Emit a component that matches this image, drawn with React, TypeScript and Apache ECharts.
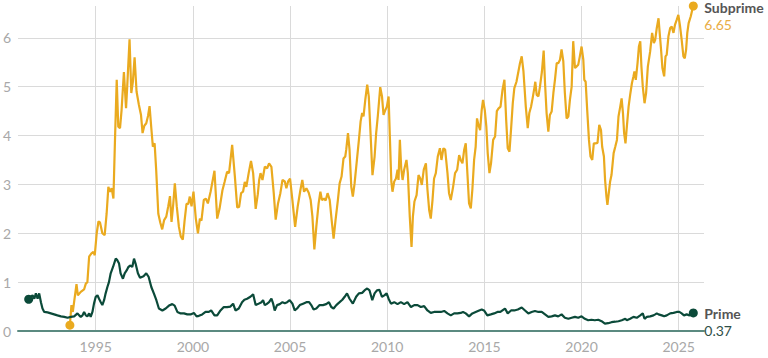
import React, { useEffect, useRef } from "react";
import * as echarts from "echarts";

const xTickYears = [1995, 2000, 2005, 2010, 2015, 2020, 2025];
const yTickValues = [0, 1, 2, 3, 4, 5, 6];

const subprimeData: [number, number][] = [
  [1993.67, 0.12], [1993.75, 0.53], [1993.82, 0.39], [1994.01, 0.96], [1994.08, 0.73], [1994.23, 0.8],
  [1994.4, 0.85], [1994.49, 0.97], [1994.57, 1.0], [1994.66, 1.52], [1994.78, 1.59], [1994.88, 1.62],
  [1994.95, 1.55], [1995.05, 2.0], [1995.14, 2.24], [1995.22, 2.22], [1995.34, 2.0], [1995.46, 1.96],
  [1995.56, 2.4], [1995.65, 2.95], [1995.73, 2.85], [1995.82, 2.92], [1995.91, 2.71], [1995.99, 3.9],
  [1996.08, 5.14], [1996.16, 4.18], [1996.25, 4.15], [1996.33, 4.52], [1996.45, 5.3], [1996.56, 4.56],
  [1996.62, 5.0], [1996.74, 5.97], [1996.83, 4.87], [1996.91, 5.1], [1997.0, 5.6], [1997.1, 4.9],
  [1997.22, 4.63], [1997.33, 4.42], [1997.41, 4.05], [1997.5, 4.2], [1997.6, 4.25], [1997.69, 4.4],
  [1997.77, 4.6], [1997.86, 4.15], [1997.94, 3.77], [1998.03, 3.84], [1998.11, 3.3], [1998.22, 2.4],
  [1998.32, 2.22], [1998.42, 2.08], [1998.52, 2.27], [1998.63, 2.34], [1998.73, 2.55], [1998.82, 2.76],
  [1998.9, 2.23], [1998.99, 2.6], [1999.07, 3.02], [1999.17, 2.55], [1999.28, 2.13], [1999.38, 1.93],
  [1999.48, 1.87], [1999.57, 2.25], [1999.67, 2.6], [1999.76, 2.6], [1999.84, 2.75], [1999.93, 2.55],
  [2000.03, 2.85], [2000.15, 2.3], [2000.26, 2.0], [2000.36, 2.3], [2000.44, 2.26], [2000.56, 2.68],
  [2000.67, 2.71], [2000.77, 2.61], [2000.91, 2.85], [2001.11, 3.28], [2001.25, 2.3], [2001.37, 2.5],
  [2001.52, 2.88], [2001.63, 3.05], [2001.76, 3.26], [2001.86, 3.23], [2002.02, 3.81], [2002.16, 3.16],
  [2002.28, 2.53], [2002.38, 2.54], [2002.48, 2.82], [2002.58, 2.85], [2002.67, 3.05], [2002.75, 2.95],
  [2002.87, 3.23], [2002.99, 3.48], [2003.1, 3.23], [2003.23, 2.5], [2003.34, 2.8], [2003.41, 3.09],
  [2003.48, 3.23], [2003.58, 3.09], [2003.7, 3.36], [2003.82, 3.33], [2003.92, 3.43], [2004.04, 3.36],
  [2004.16, 2.82], [2004.26, 2.28], [2004.38, 2.61], [2004.5, 2.82], [2004.61, 3.09], [2004.73, 3.06],
  [2004.81, 2.92], [2004.9, 3.06], [2005.0, 3.12], [2005.12, 2.68], [2005.26, 2.13], [2005.39, 2.54],
  [2005.53, 2.88], [2005.63, 3.09], [2005.72, 2.85], [2005.84, 2.92], [2005.96, 2.83], [2006.06, 2.68],
  [2006.15, 2.34], [2006.25, 1.67], [2006.35, 2.13], [2006.47, 2.61], [2006.56, 2.85], [2006.64, 2.68],
  [2006.75, 2.71], [2006.83, 2.67], [2006.93, 2.82], [2007.04, 2.68], [2007.14, 2.27], [2007.24, 1.89],
  [2007.34, 2.27], [2007.46, 2.68], [2007.55, 3.02], [2007.65, 3.16], [2007.75, 3.53], [2007.84, 3.57],
  [2007.89, 3.71], [2007.98, 4.05], [2008.06, 3.71], [2008.15, 2.95], [2008.23, 2.75], [2008.32, 3.02],
  [2008.44, 3.5], [2008.54, 3.9], [2008.63, 4.29], [2008.71, 4.46], [2008.78, 4.39], [2008.87, 4.73],
  [2008.97, 5.04], [2009.05, 4.8], [2009.14, 4.05], [2009.24, 3.19], [2009.35, 3.57], [2009.43, 4.05],
  [2009.52, 4.42], [2009.64, 4.99], [2009.73, 4.8], [2009.81, 4.42], [2009.9, 4.52], [2009.98, 4.59],
  [2010.07, 4.8], [2010.14, 3.91], [2010.21, 3.06], [2010.27, 2.85], [2010.36, 3.06], [2010.45, 3.12],
  [2010.53, 3.3], [2010.58, 3.09], [2010.65, 3.91], [2010.72, 3.33], [2010.79, 3.09], [2010.87, 3.3],
  [2010.99, 3.5], [2011.06, 3.23], [2011.16, 2.34], [2011.25, 1.72], [2011.32, 2.34], [2011.4, 2.65],
  [2011.51, 2.78], [2011.61, 3.19], [2011.7, 3.12], [2011.78, 2.99], [2011.88, 3.3], [2011.99, 3.43],
  [2012.07, 2.89], [2012.16, 2.47], [2012.24, 2.3], [2012.33, 2.68], [2012.41, 3.12], [2012.5, 3.23],
  [2012.6, 3.57], [2012.71, 3.74], [2012.79, 3.5], [2012.89, 3.74], [2012.98, 3.71], [2013.1, 3.23],
  [2013.18, 2.82], [2013.27, 2.68], [2013.39, 2.95], [2013.49, 3.23], [2013.6, 3.3], [2013.7, 3.6],
  [2013.78, 3.5], [2013.87, 3.43], [2013.96, 3.71], [2014.04, 3.84], [2014.13, 3.19], [2014.21, 2.61],
  [2014.3, 2.51], [2014.38, 2.89], [2014.47, 3.5], [2014.55, 3.77], [2014.62, 4.35], [2014.69, 4.22],
  [2014.78, 4.11], [2014.86, 4.52], [2014.93, 4.73], [2015.02, 4.52], [2015.1, 4.18], [2015.17, 3.64],
  [2015.26, 3.23], [2015.34, 3.43], [2015.45, 3.91], [2015.55, 3.98], [2015.64, 4.5], [2015.72, 4.55],
  [2015.83, 4.59], [2015.93, 4.93], [2016.03, 5.14], [2016.12, 4.32], [2016.2, 3.74], [2016.29, 3.67],
  [2016.37, 4.12], [2016.46, 4.66], [2016.54, 4.97], [2016.65, 5.1], [2016.75, 5.31], [2016.83, 5.48],
  [2016.92, 5.62], [2017.01, 5.31], [2017.13, 4.59], [2017.23, 4.15], [2017.31, 4.46], [2017.4, 4.59],
  [2017.48, 4.76], [2017.57, 4.97], [2017.62, 5.1], [2017.69, 4.83], [2017.78, 4.8], [2017.86, 5.0],
  [2017.96, 5.31], [2018.05, 5.74], [2018.12, 5.07], [2018.2, 4.46], [2018.29, 4.08], [2018.37, 4.42],
  [2018.46, 4.49], [2018.55, 4.87], [2018.63, 5.14], [2018.72, 5.48], [2018.8, 5.48], [2018.89, 5.55],
  [2018.97, 5.76], [2019.06, 5.52], [2019.14, 4.87], [2019.23, 4.35], [2019.32, 4.39], [2019.4, 4.73],
  [2019.49, 5.0], [2019.57, 5.93], [2019.66, 5.38], [2019.74, 5.41], [2019.83, 5.45], [2019.91, 5.62],
  [2020.0, 5.82], [2020.09, 5.55], [2020.14, 5.14], [2020.21, 5.1], [2020.29, 4.52], [2020.38, 3.91],
  [2020.46, 3.57], [2020.55, 3.5], [2020.63, 3.84], [2020.72, 3.84], [2020.82, 3.85], [2020.91, 4.22],
  [2021.0, 4.11], [2021.06, 3.77], [2021.15, 3.57], [2021.21, 3.09], [2021.28, 2.75], [2021.33, 2.58],
  [2021.4, 2.82], [2021.47, 3.06], [2021.54, 3.19], [2021.65, 3.64], [2021.74, 3.78], [2021.82, 3.91],
  [2021.9, 4.39], [2021.99, 4.59], [2022.06, 4.76], [2022.13, 4.46], [2022.19, 4.05], [2022.26, 3.84],
  [2022.33, 4.18], [2022.42, 4.59], [2022.5, 4.83], [2022.59, 5.07], [2022.67, 5.21], [2022.72, 5.31],
  [2022.79, 5.14], [2022.88, 5.48], [2022.95, 5.82], [2023.02, 5.93], [2023.08, 5.41], [2023.15, 5.0],
  [2023.24, 4.66], [2023.32, 4.87], [2023.41, 5.41], [2023.53, 5.72], [2023.63, 6.1], [2023.72, 5.89],
  [2023.79, 5.96], [2023.87, 6.2], [2023.96, 6.4], [2024.02, 6.1], [2024.09, 5.76], [2024.16, 5.38],
  [2024.25, 5.21], [2024.32, 5.62], [2024.38, 5.65], [2024.47, 6.03], [2024.56, 6.2], [2024.64, 6.23],
  [2024.73, 6.1], [2024.81, 6.27], [2024.9, 6.37], [2024.98, 6.47], [2025.07, 6.23], [2025.15, 5.96],
  [2025.24, 5.62], [2025.31, 5.58], [2025.38, 5.76], [2025.44, 6.1], [2025.51, 6.3], [2025.62, 6.44],
  [2025.7, 6.58], [2025.75, 6.65],
];

const primeData: [number, number][] = [
  [1991.55, 0.65], [1991.67, 0.7], [1991.75, 0.73], [1991.84, 0.66], [1991.92, 0.77], [1992.01, 0.66],
  [1992.09, 0.77], [1992.18, 0.59], [1992.26, 0.46], [1992.35, 0.39], [1992.52, 0.38], [1992.69, 0.36],
  [1992.86, 0.34], [1993.03, 0.32], [1993.21, 0.3], [1993.38, 0.29], [1993.55, 0.27], [1993.72, 0.29],
  [1993.89, 0.3], [1994.06, 0.36], [1994.15, 0.32], [1994.23, 0.29], [1994.32, 0.32], [1994.4, 0.39],
  [1994.49, 0.32], [1994.57, 0.3], [1994.66, 0.36], [1994.74, 0.29], [1994.83, 0.39], [1994.91, 0.56],
  [1995.0, 0.7], [1995.09, 0.73], [1995.17, 0.66], [1995.26, 0.59], [1995.34, 0.53], [1995.43, 0.63],
  [1995.51, 0.77], [1995.6, 0.9], [1995.68, 1.0], [1995.77, 1.18], [1995.89, 1.31], [1996.03, 1.48],
  [1996.11, 1.45], [1996.2, 1.38], [1996.28, 1.18], [1996.4, 1.07], [1996.49, 1.18], [1996.59, 1.24],
  [1996.68, 1.31], [1996.79, 1.34], [1996.88, 1.31], [1996.97, 1.48], [1997.05, 1.38], [1997.17, 1.18],
  [1997.28, 1.09], [1997.46, 1.12], [1997.6, 1.18], [1997.72, 1.11], [1997.86, 0.9], [1998.0, 0.76],
  [1998.12, 0.63], [1998.25, 0.46], [1998.43, 0.42], [1998.6, 0.46], [1998.77, 0.52], [1998.94, 0.55],
  [1999.06, 0.52], [1999.2, 0.39], [1999.37, 0.36], [1999.54, 0.36], [1999.71, 0.34], [1999.88, 0.34],
  [2000.05, 0.37], [2000.19, 0.3], [2000.31, 0.31], [2000.48, 0.34], [2000.65, 0.39], [2000.82, 0.39],
  [2000.94, 0.42], [2001.11, 0.32], [2001.25, 0.32], [2001.42, 0.42], [2001.59, 0.49], [2001.76, 0.49],
  [2001.93, 0.5], [2002.07, 0.56], [2002.19, 0.42], [2002.36, 0.46], [2002.53, 0.59], [2002.65, 0.64],
  [2002.79, 0.66], [2002.96, 0.7], [2003.1, 0.75], [2003.23, 0.53], [2003.34, 0.55], [2003.53, 0.59],
  [2003.61, 0.63], [2003.7, 0.53], [2003.79, 0.55], [2003.92, 0.59], [2004.04, 0.66], [2004.13, 0.56],
  [2004.21, 0.42], [2004.33, 0.53], [2004.47, 0.55], [2004.61, 0.59], [2004.73, 0.57], [2004.85, 0.59],
  [2004.98, 0.63], [2005.12, 0.56], [2005.24, 0.42], [2005.36, 0.46], [2005.5, 0.53], [2005.67, 0.56],
  [2005.84, 0.59], [2005.98, 0.59], [2006.09, 0.53], [2006.21, 0.44], [2006.35, 0.46], [2006.52, 0.53],
  [2006.69, 0.53], [2006.86, 0.55], [2007.0, 0.59], [2007.12, 0.49], [2007.24, 0.46], [2007.38, 0.53],
  [2007.55, 0.59], [2007.69, 0.64], [2007.81, 0.7], [2007.93, 0.77], [2008.06, 0.66], [2008.23, 0.56],
  [2008.4, 0.7], [2008.54, 0.77], [2008.71, 0.78], [2008.83, 0.83], [2008.97, 0.87], [2009.09, 0.83],
  [2009.23, 0.63], [2009.35, 0.77], [2009.47, 0.83], [2009.6, 0.84], [2009.73, 0.7], [2009.85, 0.73],
  [2009.97, 0.77], [2010.07, 0.66], [2010.19, 0.56], [2010.36, 0.59], [2010.53, 0.55], [2010.7, 0.59],
  [2010.87, 0.55], [2011.04, 0.59], [2011.22, 0.49], [2011.39, 0.53], [2011.56, 0.53], [2011.73, 0.49],
  [2011.9, 0.51], [2012.07, 0.42], [2012.24, 0.37], [2012.41, 0.39], [2012.59, 0.39], [2012.76, 0.39],
  [2012.93, 0.41], [2013.1, 0.36], [2013.27, 0.32], [2013.44, 0.36], [2013.61, 0.36], [2013.78, 0.37],
  [2013.9, 0.39], [2014.04, 0.36], [2014.21, 0.3], [2014.38, 0.36], [2014.55, 0.39], [2014.73, 0.42],
  [2014.86, 0.44], [2014.98, 0.42], [2015.15, 0.32], [2015.33, 0.34], [2015.5, 0.36], [2015.67, 0.39],
  [2015.82, 0.39], [2016.06, 0.46], [2016.2, 0.36], [2016.37, 0.42], [2016.54, 0.42], [2016.72, 0.44],
  [2016.92, 0.48], [2017.09, 0.42], [2017.26, 0.36], [2017.43, 0.39], [2017.6, 0.41], [2017.78, 0.39],
  [2017.95, 0.39], [2018.12, 0.34], [2018.29, 0.29], [2018.46, 0.3], [2018.63, 0.32], [2018.8, 0.3],
  [2018.97, 0.34], [2019.14, 0.27], [2019.32, 0.25], [2019.49, 0.27], [2019.66, 0.29], [2019.83, 0.27],
  [2020.0, 0.3], [2020.17, 0.25], [2020.34, 0.22], [2020.51, 0.23], [2020.68, 0.22], [2020.86, 0.23],
  [2021.03, 0.2], [2021.2, 0.15], [2021.37, 0.16], [2021.54, 0.18], [2021.73, 0.19], [2021.9, 0.2],
  [2022.07, 0.22], [2022.25, 0.25], [2022.33, 0.22], [2022.5, 0.25], [2022.67, 0.29], [2022.84, 0.27],
  [2023.02, 0.32], [2023.15, 0.36], [2023.24, 0.25], [2023.36, 0.29], [2023.53, 0.3], [2023.7, 0.32],
  [2023.79, 0.34], [2023.87, 0.36], [2023.96, 0.34], [2024.13, 0.32], [2024.25, 0.3], [2024.38, 0.32],
  [2024.56, 0.36], [2024.73, 0.37], [2024.9, 0.39], [2025.03, 0.39], [2025.15, 0.36], [2025.27, 0.32],
  [2025.41, 0.34], [2025.55, 0.32], [2025.67, 0.36], [2025.75, 0.37],
];

const SUB_COLOR = "#EAAA1F";
const PRIME_COLOR = "#0B4A39";
const FONT = "Lato, 'Noto Sans', sans-serif";

function withEndDots(arr: [number, number][]) {
  return arr.map((d, i) =>
    i === 0 || i === arr.length - 1 ? { value: d, symbol: "circle", symbolSize: 9 } : { value: d, symbol: "none" }
  );
}

export default function App() {
  const ref = useRef<HTMLDivElement>(null);
  useEffect(() => {
    if (!ref.current) return;
    const chart = echarts.init(ref.current, undefined, { renderer: "svg" });
    const endLabel = (valColor: string) => ({
      show: true,
      distance: 11,
      offset: [0, 11],
      formatter: (p: any) => `{n|${p.seriesName}}\n{v|${Number(p.value[1]).toFixed(2)}}`,
      rich: {
        n: { fontFamily: FONT, fontSize: 14, fontWeight: "bold", color: "#555555", lineHeight: 14 },
        v: { fontFamily: FONT, fontSize: 14, color: valColor, lineHeight: 20 },
      },
    });
    chart.setOption({
      animation: false,
      grid: { left: 16, right: 64, top: 6, bottom: 27 },
      xAxis: {
        type: "value",
        min: 1991,
        max: 2026.3,
        axisLine: { show: true, lineStyle: { color: "#5b8a80", width: 2 } },
        axisTick: { show: false, customValues: xTickYears },
        axisLabel: {
          customValues: xTickYears,
          color: "#a8a8a8",
          fontSize: 14,
          fontFamily: FONT,
          margin: 8,
          formatter: (v: number) => String(v),
        },
        splitLine: { show: true, lineStyle: { color: "#dadada", width: 1 } },
      },
      yAxis: {
        type: "value",
        min: 0,
        max: 6.65,
        axisLine: { show: false },
        axisTick: { show: false, customValues: yTickValues },
        axisLabel: {
          customValues: yTickValues,
          align: "left",
          margin: 15,
          color: "#a8a8a8",
          fontSize: 14,
          fontFamily: FONT,
          formatter: (v: number) => String(v),
        },
        splitLine: { show: true, lineStyle: { color: "#dadada", width: 1 } },
      },
      series: [
        {
          name: "Subprime",
          type: "line",
          data: withEndDots(subprimeData),
          showSymbol: true,
          lineStyle: { color: SUB_COLOR, width: 2.2 },
          itemStyle: { color: SUB_COLOR },
          endLabel: endLabel("#E9AD45"),
          z: 3,
        },
        {
          name: "Prime",
          type: "line",
          data: withEndDots(primeData),
          showSymbol: true,
          lineStyle: { color: PRIME_COLOR, width: 2.2 },
          itemStyle: { color: PRIME_COLOR },
          endLabel: endLabel("#2f4f48"),
          z: 4,
        },
      ],
    });
    return () => chart.dispose();
  }, []);
  return <div ref={ref} style={{ width: 768, height: 358, position: "absolute", left: 0, top: 0 }} />;
}
